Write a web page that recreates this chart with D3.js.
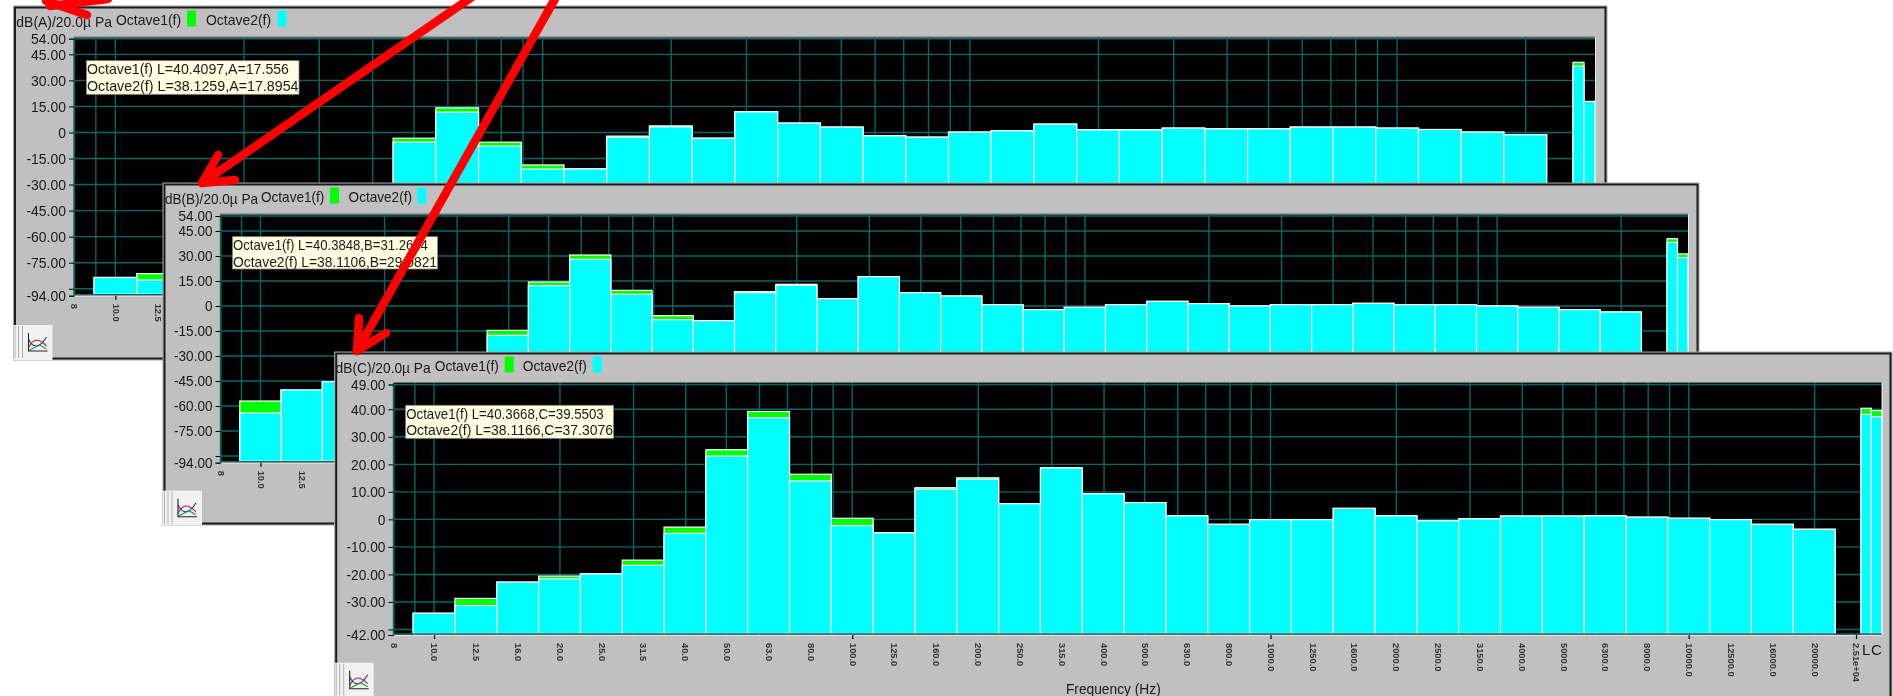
<!DOCTYPE html>
<html>
<head>
<meta charset="utf-8">
<script src="https://cdn.jsdelivr.net/npm/d3@7"></script>
<style>
  html, body { margin: 0; padding: 0; background: #fff; overflow: hidden; }
  text { font-family: 'Liberation Sans', Arial, sans-serif; fill: #1a1a1a; }
</style>
</head>
<body>
<div id="chart"></div>
<script>
const bandFreqs = [10, 12.5, 16, 20, 25, 31.5, 40, 50, 63, 80, 100, 125, 160, 200, 250, 315, 400, 500, 630, 800, 1000, 1250, 1600, 2000, 2500, 3150, 4000, 5000, 6300, 8000, 10000, 12500, 16000, 20000];

const aOctave1 = [-83.5, -81.3, -71, -65, -60, -51, -35, -3.3, 14.2, -5.6, -18.7, -21, -2.1, 3.8, -3.3, 11.9, 5.4, 3.1, -1.9, -2.7, 0.2, 1.0, 4.8, 1.5, 1.5, 2.5, 2.1, 2.1, 3.1, 3.1, 2.5, 1.7, 0.2, -1.3];
const aOctave2 = [-83.5, -85, -72, -66, -60, -53, -37, -5.6, 11.7, -7.9, -21.1, -21, -2.7, 3.2, -3.3, 11.9, 5.4, 3.1, -1.9, -2.7, 0.2, 1.0, 4.8, 1.5, 1.5, 2.5, 2.1, 2.1, 3.1, 3.1, 2.5, 1.7, 0.2, -1.3];
const bOctave1 = [-57, -50.4, -45.4, -40, -33, -30, -14.6, 14.4, 30.6, 9.4, -5.8, -8.8, 8.6, 13.0, 4.4, 17.6, 8.0, 6.0, 0.8, -2.2, -0.8, 0.8, 2.8, 1.4, 0, 0.8, 0.8, 1.6, 0.8, 0.8, 0, -0.8, -2.2, -3.6];
const bOctave2 = [-64.2, -50.4, -45.4, -41, -33, -32, -17.6, 12.2, 28.0, 7.0, -8.2, -8.8, 8.0, 12.4, 4.4, 17.6, 8.0, 6.0, 0.8, -2.2, -0.8, 0.8, 2.8, 1.4, 0, 0.8, 0.8, 1.6, 0.8, 0.8, 0, -0.8, -2.2, -3.6];
const cOctave1 = [-34.1, -28.7, -22.8, -20.6, -19.8, -14.8, -2.8, 25.3, 39.2, 16.4, 0.4, -4.9, 11.5, 15.1, 5.7, 18.7, 9.3, 6.1, 1.3, -1.8, -0.1, -0.1, 4.0, 1.3, -0.5, 0.2, 1.2, 1.2, 1.3, 0.8, 0.4, -0.1, -1.8, -3.6];
const cOctave2 = [-34.1, -31.3, -22.8, -21.6, -19.8, -16.7, -5.1, 23.0, 36.9, 14.0, -2.3, -4.9, 11.0, 14.6, 5.7, 18.7, 9.3, 6.1, 1.3, -1.8, -0.1, -0.1, 4.0, 1.3, -0.5, 0.2, 1.2, 1.2, 1.3, 0.8, 0.4, -0.1, -1.8, -3.6];

const aTotals = [{ name: 'L', o1: 40.4097, o2: 38.1259 }, { name: 'A', o1: 17.556, o2: 17.8954 }];
const bTotals = [{ name: 'L', o1: 40.3848, o2: 38.1106 }, { name: 'B', o1: 31.2634, o2: 29.0821 }];
const cTotals = [{ name: 'L', o1: 40.3668, o2: 38.1166 }, { name: 'C', o1: 39.5503, o2: 37.3076 }];

const abTicks = [54, 45, 30, 15, 0, -15, -30, -45, -60, -75, -90, -94];
const cTicks = [49, 40, 30, 20, 10, 0, -10, -20, -30, -40, -42];
const hiddenLabels = [-90, -40];

const width = 1893;
const height = 696;
const freqMin = 8;
const freqMax = 25119;
const green = '#00ff00';
const cyan = '#00ffff';
const gridColor = '#006868';

const panels = [
  {
    id: 'a', title: 'dB(A)/20.0µ Pa', box: [13.5, 6, 1607, 360], plot: [74, 37.5, 1595, 295.7], xEnd: 1568,
    top: 38.7, ticks: abTicks, o1: aOctave1, o2: aOctave2, totals: aTotals, toolY: 325,
    legend: [102.5, 173.5, 192.5, 264], titleEnd: 98.5, font: 15,
    tipBox: [86.5, 60.7, 299, 94.3],
    tip: ['Octave1(f) L=40.4097,A=17.556', 'Octave2(f) L=38.1259,A=17.8954'],
  },
  {
    id: 'b', title: 'dB(B)/20.0µ Pa', box: [163, 183, 1699, 525], plot: [220.5, 214.5, 1688, 462.7], xEnd: 1662,
    top: 216, ticks: abTicks, o1: bOctave1, o2: bOctave2, totals: bTotals, toolY: 490.7,
    legend: [98, 167, 185.6, 254], titleEnd: 95, font: 14.6,
    tipBox: [232.6, 236.7, 437.5, 269],
    tip: ['Octave1(f) L=40.3848,B=31.2634', 'Octave2(f) L=38.1106,B=29.0821'],
  },
  {
    id: 'c', title: 'dB(C)/20.0µ Pa', box: [334.7, 352, 1892, 704], plot: [393.5, 383, 1881.7, 635], xEnd: 1856,
    top: 384.5, ticks: cTicks, o1: cOctave1, o2: cOctave2, totals: cTotals, toolY: 662.7,
    legend: [100, 170, 188, 258], titleEnd: 96, font: 14.8,
    tipBox: [405.7, 405.3, 613.5, 438.3],
    tip: ['Octave1(f) L=40.3668,C=39.5503', 'Octave2(f) L=38.1166,C=37.3076'],
  },
];

const arrows = [
  [[108, -1], [50, 6]],
  [[87, 15], [46, 1]],
  [[472, -3], [202, 183]],
  [[218, 155], [202, 183], [235, 180]],
  [[556, -3], [357, 351]],
  [[359, 318], [357, 351], [386, 333]],
];

const svg = d3.select('#chart').append('svg').attr('width', width).attr('height', height);

// the source is an upscaled screenshot, text comes out soft and a bit narrow
svg.append('filter').attr('id', 'soft').append('feGaussianBlur').attr('stdDeviation', 0.3);

const condense = (selection) => {
  selection.each(function () {
    const length = this.getComputedTextLength();
    if (length > 0) {
      d3.select(this).attr('textLength', length * 0.93).attr('lengthAdjust', 'spacingAndGlyphs');
    }
  });
};

// band centres are the exact third octave positions, the labels are the nominal ones
const bandCentre = (i) => 10 * Math.pow(10, i / 10);
const bandLow = (i) => bandCentre(i) * Math.pow(10, -0.05);
const bandHigh = (i) => bandCentre(i) * Math.pow(10, 0.05);

const drawBarPair = (g, rows, xOf, wOf, key, y, baseY) => {
  g.append('g').selectAll('rect').data(rows).join('rect')
    .attr('x', xOf).attr('width', wOf)
    .attr('y', (d) => y(d[key]))
    .attr('height', (d) => baseY - y(d[key]))
    .attr('fill', key === 'o1' ? green : cyan)
    .attr('stroke', '#ffffff').attr('stroke-width', 1.2);
};

const drawPanel = (p) => {
  const [bx0, by0, bx1, by1] = p.box;
  const [px0, py0, px1, py1] = p.plot;

  svg.append('clipPath').attr('id', `clip-${p.id}`).append('rect')
    .attr('x', bx0).attr('y', by0).attr('width', bx1 - bx0).attr('height', by1 - by0);

  const g = svg.append('g');
  g.append('rect')
    .attr('x', bx0).attr('y', by0).attr('width', bx1 - bx0).attr('height', by1 - by0)
    .attr('fill', '#c0c0c0');

  const inner = g.append('g').attr('clip-path', `url(#clip-${p.id})`);

  const x = d3.scaleLog().domain([freqMin, freqMax]).range([px0, p.xEnd]);
  const y = d3.scaleLinear().domain([p.ticks[p.ticks.length - 1], p.ticks[0]]).range([py1, p.top]);
  const xTotal = d3.scaleBand().domain(p.totals.map((d) => d.name)).range([p.xEnd + 5, px1]);

  // plot background and grid
  inner.append('rect').attr('x', px0).attr('y', py0).attr('width', px1 - px0).attr('height', py1 - py0).attr('fill', '#000');
  inner.append('line').attr('x1', px0).attr('x2', px1).attr('y1', py0 - 0.5).attr('y2', py0 - 0.5).attr('stroke', '#707070');

  inner.append('g').selectAll('line').data(p.ticks.slice(0, -1)).join('line')
    .attr('x1', px0).attr('x2', px1).attr('y1', (d) => y(d)).attr('y2', (d) => y(d))
    .attr('stroke', gridColor).attr('stroke-width', 1.4);
  inner.append('g').selectAll('line').data(x.ticks()).join('line')
    .attr('x1', (d) => x(d)).attr('x2', (d) => x(d)).attr('y1', py0).attr('y2', py1)
    .attr('stroke', gridColor).attr('stroke-width', 1.4);

  // bars
  const rows = bandFreqs.map((f, i) => ({ i, o1: p.o1[i], o2: p.o2[i] }));
  const baseY = py1 - 1.5;
  ['o1', 'o2'].forEach((key) => {
    drawBarPair(inner, rows, (d) => x(bandLow(d.i)), (d) => x(bandHigh(d.i)) - x(bandLow(d.i)), key, y, baseY);
    drawBarPair(inner, p.totals, (d) => xTotal(d.name), () => xTotal.bandwidth(), key, y, baseY);
  });

  inner.append('line').attr('x1', px0).attr('x2', px1).attr('y1', py1 - 1.2).attr('y2', py1 - 1.2)
    .attr('stroke', gridColor).attr('stroke-width', 1.2);
  inner.append('line').attr('x1', px0).attr('x2', px1).attr('y1', py1 + 0.3).attr('y2', py1 + 0.3).attr('stroke', '#f0f0f0');
  inner.append('line').attr('x1', px1 + 0.5).attr('x2', px1 + 0.5).attr('y1', py0).attr('y2', py1).attr('stroke', '#e8e8e8');

  const labels = inner.append('g').attr('filter', 'url(#soft)');

  // y axis
  const yAxis = d3.axisLeft(y).tickValues(p.ticks).tickSize(5).tickPadding(3)
    .tickFormat((d) => (hiddenLabels.includes(d) ? '' : d === 0 ? '0' : d.toFixed(2)));
  const yG = labels.append('g').attr('transform', `translate(${px0},0)`).call(yAxis);
  yG.select('.domain').attr('stroke', gridColor);
  yG.selectAll('text').style('font-size', `${p.font}px`).style('font-family', null).call(condense);
  yG.selectAll('line').attr('stroke', '#000');

  // x axis, labels read downwards
  const labelValues = [freqMin, ...bandFreqs.map((f, i) => bandCentre(i)), freqMax];
  const labelTexts = ['8', ...bandFreqs.map((f) => f.toFixed(1)), '2.51e+04'];
  const xAxis = d3.axisBottom(x).tickValues(labelValues).tickSize(0)
    .tickFormat((d, i) => labelTexts[i]);
  const xG = labels.append('g').attr('transform', `translate(0,${py1})`).call(xAxis);
  xG.select('.domain').remove();
  xG.selectAll('text')
    .attr('transform', 'rotate(90)')
    .attr('text-anchor', 'start')
    .attr('x', 8).attr('y', 0).attr('dy', '0.34em')
    .style('font-size', '9.3px').style('font-weight', 'bold').style('fill', '#333');

  const majorAxis = d3.axisBottom(x).tickValues([10, 100, 1000, 10000, freqMax]).tickSize(4).tickFormat('');
  const majorG = inner.append('g').attr('transform', `translate(0,${py1})`).call(majorAxis);
  majorG.select('.domain').remove();
  majorG.selectAll('line').attr('stroke', '#000').attr('stroke-width', 1.2);

  labels.append('g').selectAll('text').data(p.totals).join('text')
    .attr('x', (d) => xTotal(d.name) + xTotal.bandwidth() / 2)
    .attr('y', py1 + 20)
    .attr('text-anchor', 'middle')
    .style('font-size', '15px')
    .text((d) => d.name);

  labels.append('text')
    .attr('x', (bx0 + bx1) / 2).attr('y', by0 + 342)
    .attr('text-anchor', 'middle')
    .style('font-size', `${p.font}px`)
    .text('Frequency (Hz)')
    .call(condense);

  // legend strip
  labels.append('text').attr('x', bx0 + p.titleEnd).attr('y', by0 + 21).attr('text-anchor', 'end')
    .style('font-size', `${p.font}px`).text(p.title).call(condense);
  const legendKeys = [
    { name: 'Octave1(f)', color: green, tx: p.legend[0], sx: p.legend[1] },
    { name: 'Octave2(f)', color: cyan, tx: p.legend[2], sx: p.legend[3] },
  ];
  labels.append('g').selectAll('text').data(legendKeys).join('text')
    .attr('x', (d) => bx0 + d.tx).attr('y', by0 + 18.5)
    .style('font-size', `${p.font}px`).text((d) => d.name).call(condense);
  inner.append('g').selectAll('rect').data(legendKeys).join('rect')
    .attr('x', (d) => bx0 + d.sx).attr('y', by0 + 4.5).attr('width', 9).attr('height', 16)
    .attr('fill', (d) => d.color);

  // readout box
  const [tx0, ty0, tx1, ty1] = p.tipBox;
  inner.append('rect').attr('x', tx0).attr('y', ty0).attr('width', tx1 - tx0).attr('height', ty1 - ty0)
    .attr('fill', '#ffffe1').attr('stroke', '#8a8a80').attr('stroke-width', 0.8);
  inner.append('g').attr('filter', 'url(#soft)').selectAll('text').data(p.tip).join('text')
    .attr('x', tx0 + 0.5).attr('y', (d, i) => ty0 + 13.5 + i * 16.5)
    .attr('textLength', (d, i) => (tx1 - tx0 - 1) * (i === 0 ? 0.955 : 1)).attr('lengthAdjust', 'spacingAndGlyphs')
    .style('font-size', `${p.font}px`).text((d) => d);

  // frame
  g.append('rect').attr('x', bx0).attr('y', by0).attr('width', bx1 - bx0).attr('height', by1 - by0)
    .attr('fill', 'none').attr('stroke', '#a8a8a8').attr('stroke-width', 1);
  g.append('rect').attr('x', bx0 + 1.5).attr('y', by0 + 1.5).attr('width', bx1 - bx0 - 3).attr('height', by1 - by0 - 3)
    .attr('fill', 'none').attr('stroke', '#1c1c1c').attr('stroke-width', 2);

  // toolbar button in the corner
  const toolbar = g.append('g').attr('transform', `translate(${bx0},${p.toolY})`);
  toolbar.append('rect').attr('width', 39).attr('height', by1 - p.toolY).attr('fill', '#f2f2f2');
  toolbar.selectAll('line.grip').data([1.5, 5, 9]).join('line').attr('class', 'grip')
    .attr('x1', (d) => d).attr('x2', (d) => d).attr('y1', 1).attr('y2', 33).attr('stroke', '#b0b0b0');
  const icon = toolbar.append('g').attr('fill', 'none').attr('stroke-width', 1.1);
  icon.append('path').attr('d', 'M15,8V26H34').attr('stroke', '#222');
  icon.append('path').attr('d', 'M15,23C20,12 26,14 33,21').attr('stroke', '#d01818');
  icon.append('path').attr('d', 'M15,14C20,25 27,22 33,12').attr('stroke', '#2030b0');
  icon.append('path').attr('d', 'M16,25L26,20L33,24').attr('stroke', '#10a040');
};

panels.forEach(drawPanel);

const arrowLine = d3.line();
svg.append('g').selectAll('path').data(arrows).join('path')
  .attr('d', (d) => arrowLine(d))
  .attr('fill', 'none').attr('stroke', '#ff0000').attr('stroke-width', 8.5)
  .attr('stroke-linecap', 'round').attr('stroke-linejoin', 'round');
</script>
</body>
</html>
